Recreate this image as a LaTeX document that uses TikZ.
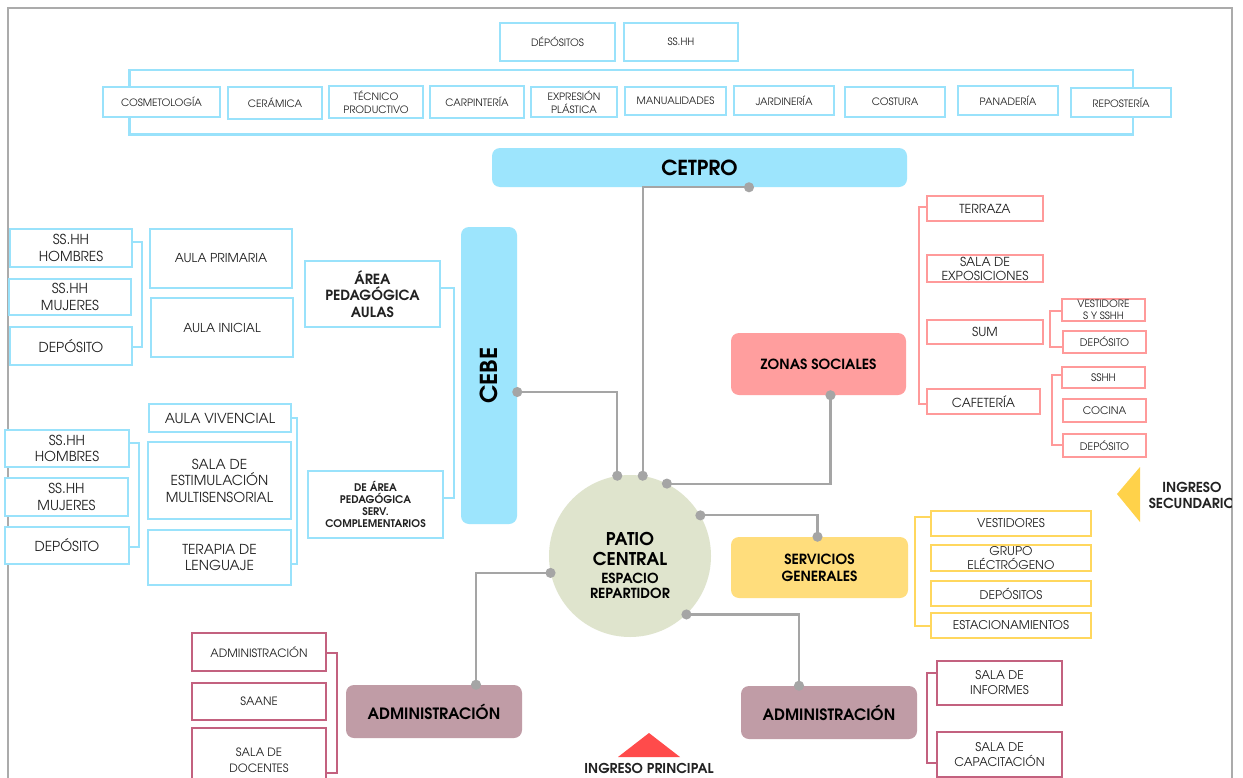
\documentclass[tikz,border=0pt]{standalone}
\usepackage{fontspec}
\setmainfont{texgyreadventor}[Extension=.otf, UprightFont=*-regular, BoldFont=*-bold, ItalicFont=*-italic, BoldItalicFont=*-bolditalic]
\usetikzlibrary{calc,backgrounds}

\definecolor{cblue}{HTML}{99E2FB}
\definecolor{cbluef}{HTML}{9DE5FD}
\definecolor{cpink}{HTML}{FF9A9A}
\definecolor{cpinkf}{HTML}{FF9E9E}
\definecolor{cyel}{HTML}{FFD75E}
\definecolor{cyelf}{HTML}{FFDD7C}
\definecolor{cmauve}{HTML}{C3617F}
\definecolor{cmauvef}{HTML}{C09CA6}
\definecolor{cpatio}{HTML}{DFE4CD}
\definecolor{cgray}{HTML}{A5A5A5}
\definecolor{cframe}{HTML}{ABABAB}
\definecolor{cred}{HTML}{FF4B4B}
\definecolor{cyeltri}{HTML}{FFD24A}
\definecolor{txt}{HTML}{222222}

\newcommand\fs[2]{\fontsize{#1}{#2}\selectfont}
% box from corner (x1,y1) to corner (x2,y2), in pixel-like units
\newcommand\rb[7][]{\node[#1, minimum width={(#5-#3)*0.75pt}, minimum height={(#6-#4)*0.75pt}] (#2) at ({(#3+#5)/2},{(#4+#6)/2}) {#7};}

\tikzset{
  rbx/.style={draw, fill=white, inner sep=0pt, align=center, text=txt},
  bbox/.style={rbx, draw=cblue, line width=1.9pt},
  pbox/.style={rbx, draw=cpink, line width=1.6pt},
  ybox/.style={rbx, draw=cyel, line width=1.6pt},
  mbox/.style={rbx, draw=cmauve, line width=1.5pt},
  hub/.style={inner sep=0pt, rounded corners=6pt, align=center, text=black, font=\fs{10.5}{12.75}\bfseries},
  conn/.style={draw=cgray, line width=1.6pt},
  dotc/.style={fill=cgray},
  bbr/.style={draw=cblue, line width=1.4pt},
  pbr/.style={draw=cpink, line width=1.4pt},
  ybr/.style={draw=cyel, line width=1.4pt},
  mbr/.style={draw=cmauve, line width=1.4pt},
  ftiny/.style={font=\fs{7.6}{9.5}},
  fsub/.style={font=\fs{7.8}{9}},
  fpink/.style={font=\fs{9.3}{10.5}},
  fyel/.style={font=\fs{9}{10.5}},
  fmauve/.style={font=\fs{9}{11.3}},
  fadm/.style={font=\fs{8.6}{12}},
  fmid/.style={font=\fs{9.2}{12}},
  fleft/.style={font=\fs{10.3}{12.4}},
  fbold/.style={font=\fs{10.5}{12.4}\bfseries},
}

\begin{document}
\begin{tikzpicture}[x=0.75pt,y=-0.75pt]
\useasboundingbox (0,0) rectangle (1243,778);

% ---------- CETPRO workshops ----------
\rb[bbox,ftiny]{tdep}{500}{23}{615}{61}{DÉPÓSITOS}
\rb[bbox,ftiny]{tss}{624}{23}{738}{61}{SS.HH}
\rb[bbox,ftiny]{cosm}{103}{87}{220}{117}{COSMETOLOGÍA}
\rb[bbox,ftiny]{ceram}{228}{87}{322}{119}{CERÁMICA}
\rb[bbox,ftiny]{tecn}{329}{86}{423}{118}{TÉCNICO\\PRODUCTIVO}
\rb[bbox,ftiny]{carp}{430}{86}{524}{118}{CARPINTERÍA}
\rb[bbox,ftiny]{expr}{531}{87}{617}{117}{EXPRESIÓN\\PLÁSTICA}
\rb[bbox,ftiny]{manu}{625}{87}{726}{115}{MANUALIDADES}
\rb[bbox,ftiny]{jard}{734}{86}{834}{115}{JARDINERÍA}
\rb[bbox,ftiny]{cost}{845}{87}{945}{117}{COSTURA}
\rb[bbox,ftiny]{pana}{958}{86}{1058}{115}{PANADERÍA}
\rb[bbox,ftiny]{repo}{1071}{88}{1171}{117}{REPOSTERÍA}
\begin{scope}[on background layer]
  % page, outer frame and the frame around the workshop row
  \fill[white] (0,0) rectangle (1243,778);
  \draw[cframe, line width=1.5pt] (8,800) -- (8,8) -- (1232,8) -- (1232,800);
  \draw[draw=cblue, line width=1.8pt] ($(cosm.center)+(-32,-32)$) rectangle ($(repo.center)+(12,32)$);
\end{scope}

% ---------- main hubs ----------
\rb[hub,fill=cbluef,font=\fs{15.5}{17}\bfseries]{cetpro}{492}{148}{907}{187}{CETPRO}
\rb[hub,fill=cbluef]{cebe}{461}{227}{517}{524}{}
\node[rotate=90, font=\fs{17.5}{19}\bfseries] (cebelbl) at (cebe.center) {CEBE};

\node[circle, fill=cpatio, minimum size={162*0.75pt}, inner sep=0pt] (patio) at (630,556) {};
\node[align=center, font=\fs{13.2}{15}\bfseries] (patiot) at (630,549) {PATIO\\CENTRAL};
\node[align=center, font=\fs{10.4}{11.3}\bfseries] (patios) at (630,586) {ESPACIO\\REPARTIDOR};

\rb[hub,fill=cpinkf]{zonas}{731}{333}{906}{395}{ZONAS SOCIALES}
\rb[hub,fill=cyelf]{serv}{731}{537}{908}{598}{SERVICIOS\\GENERALES}
\rb[hub,fill=cmauvef,font=\fs{11.7}{13}\bfseries]{admL}{346}{685}{522}{738}{ADMINISTRACIÓN}
\rb[hub,fill=cmauvef,font=\fs{11.7}{13}\bfseries]{admR}{741}{686}{917}{739}{ADMINISTRACIÓN}

% connector end points
\coordinate (cetdot) at ($(cetpro.south)+(49.5,0)$);
\coordinate (cebedot) at ($(cebe.east)+(0,16.5)$);
\coordinate (zondot) at ($(zonas.south)+(12,0)$);
\coordinate (servdot) at ($(serv.north)+(-2,0)$);
\coordinate (admLdot) at ($(admL.north)+(42,0)$);
\coordinate (admRdot) at ($(admR.north)+(-30,0)$);

\draw[conn] (cetdot) -| (patio.81);
\draw[conn] (cebedot) -| (patio.99);
\draw[conn] (patio.63) -| (zondot);
\draw[conn] (patio.30) -| (servdot);
\draw[conn] (patio.192) -| (admLdot);
\draw[conn] (patio.-46) -| (admRdot);
\foreach \p in {cetdot,cebedot,zondot,servdot,admLdot,admRdot,patio.81,patio.99,patio.63,patio.30,patio.192,patio.-46}
  \fill[dotc] (\p) circle (3.8pt);

% ---------- CEBE areas ----------
\rb[bbox,fleft]{hom1}{10}{229}{132}{267}{SS.HH\\HOMBRES}
\rb[bbox,fleft]{muj1}{9}{279}{131}{315}{SS.HH\\MUJERES}
\rb[bbox,fleft]{dep1}{10}{327}{132}{365}{DEPÓSITO}
\rb[bbox,fmid]{aprim}{150}{229}{292}{288}{AULA PRIMARIA}
\rb[bbox,fmid]{ainic}{151}{298}{293}{357}{AULA INICIAL}
\rb[bbox,fbold]{apa}{305}{261}{440}{327}{ÁREA\\PEDAGÓGICA\\AULAS}

\rb[bbox,fleft]{aviv}{149}{404}{291}{432}{AULA VIVENCIAL}
\rb[bbox,fleft]{sestim}{148}{442}{291}{519}{SALA DE\\ESTIMULACIÓN\\MULTISENSORIAL}
\rb[bbox,fleft]{terap}{148}{530}{291}{585}{TERAPIA DE\\LENGUAJE}
\rb[bbox,fleft]{hom2}{5}{430}{129}{467}{SS.HH\\HOMBRES}
\rb[bbox,fleft]{muj2}{5}{478}{128}{516}{SS.HH\\MUJERES}
\rb[bbox,fleft]{dep2}{5}{527}{129}{564}{DEPÓSITO}
\rb[bbox,font=\fs{7.9}{9}\bfseries]{apsc}{308}{471}{443}{538}{DE ÁREA\\PEDAGÓGICA\\SERV.\\COMPLEMENTARIOS}

\draw[bbr] ($(hom1.east)+(0,-6)$) -- ++(9,0) |- ($(dep1.east)+(0,1)$);
\draw[bbr] ($(hom2.east)+(0,-5.5)$) -- ++(8.5,0) |- ($(dep2.east)+(0,1.5)$);
\draw[bbr] (aviv.east) -- ++(5,0) |- ($(terap.east)+(0,6.5)$);
\draw[bbr] ($(apa.east)+(0,-6)$) -- ++(12.6,0) |- ($(apsc.east)+(0,-6.5)$);

% ---------- social zones ----------
\rb[pbox,fpink]{terr}{927}{196}{1043}{221}{TERRAZA}
\rb[pbox,fpink]{sexp}{927}{255}{1043}{282}{SALA DE\\EXPOSICIONES}
\rb[pbox,fpink]{sum}{927}{320}{1043}{344}{SUM}
\rb[pbox,fpink]{cafe}{927}{389}{1040}{414}{CAFETERÍA}
\rb[pbox,font=\fs{7.6}{9}]{vest}{1062}{299}{1145}{321}{VESTIDORE\\S Y SSHH}
\rb[pbox,fsub]{dsum}{1063}{331}{1146}{353}{DEPÓSITO}
\rb[pbox,fsub]{sshh}{1062}{367}{1145}{388}{SSHH}
\rb[pbox,fsub]{coci}{1063}{399}{1146}{422}{COCINA}
\rb[pbox,fsub]{dcaf}{1063}{434}{1146}{457}{DEPÓSITO}

\draw[pbr] ($(terr.west)+(0,-1.5)$) -- ++(-7,0) |- ($(cafe.west)+(0,2.5)$);
\draw[pbr] ($(vest.west)+(0,1)$) -- ++(-11,0) |- ($(dsum.west)+(0,5)$);
\draw[pbr] ($(sshh.west)+(0,-2.5)$) -- ++(-9,0) |- ($(dcaf.west)+(0,-0.5)$);

% ---------- general services ----------
\rb[ybox,fyel]{yvest}{931}{511}{1091}{536}{VESTIDORES}
\rb[ybox,fyel]{ygrup}{931}{545}{1091}{571}{GRUPO\\ELÉCTRÓGENO}
\rb[ybox,fyel]{ydep}{931}{581}{1091}{606}{DEPÓSITOS}
\rb[ybox,fyel]{yest}{931}{613}{1091}{638}{ESTACIONAMIENTOS}
\draw[ybr] ($(yvest.west)+(0,-6.5)$) -- ++(-15,0) |- ($(yest.west)+(0,0.5)$);

% ---------- administration ----------
\rb[mbox,fmauve]{sinf}{937}{661}{1062}{705}{SALA DE\\INFORMES}
\rb[mbox,fmauve]{scap}{937}{732}{1062}{777}{SALA DE\\CAPACITACIÓN}
\draw[mbr] ($(sinf.west)+(0,-10)$) -- ++(-9,0) |- ($(scap.west)+(0,8.5)$);

\rb[mbox,fadm]{sadm}{192}{633}{326}{671}{ADMINISTRACIÓN}
\rb[mbox,fadm]{saane}{192}{683}{326}{720}{SAANE}
\rb[mbox,fadm]{sdoc}{192}{728}{326}{792}{SALA DE\\DOCENTES}
\draw[mbr] ($(sadm.east)+(0,1)$) -- ++(10,0) |- ($(sdoc.east)+(0,13)$);

% ---------- entrances ----------
\fill[cyeltri] (1117,494) -- (1140,467) -- (1140,522) -- cycle;
\begin{scope}
  \clip (0,0) rectangle (1231,778);
  \node[align=center, font=\fs{10.3}{12}\bfseries, text=txt] (ingsec) at (1192,495) {INGRESO\\SECUNDARIO};
\end{scope}
\fill[cred] (618,757) -- (649,733) -- (680,757) -- cycle;
\node[font=\fs{10.2}{11}\bfseries, text=txt] (ingpri) at (649,768) {INGRESO PRINCIPAL};
\end{tikzpicture}
\end{document}
